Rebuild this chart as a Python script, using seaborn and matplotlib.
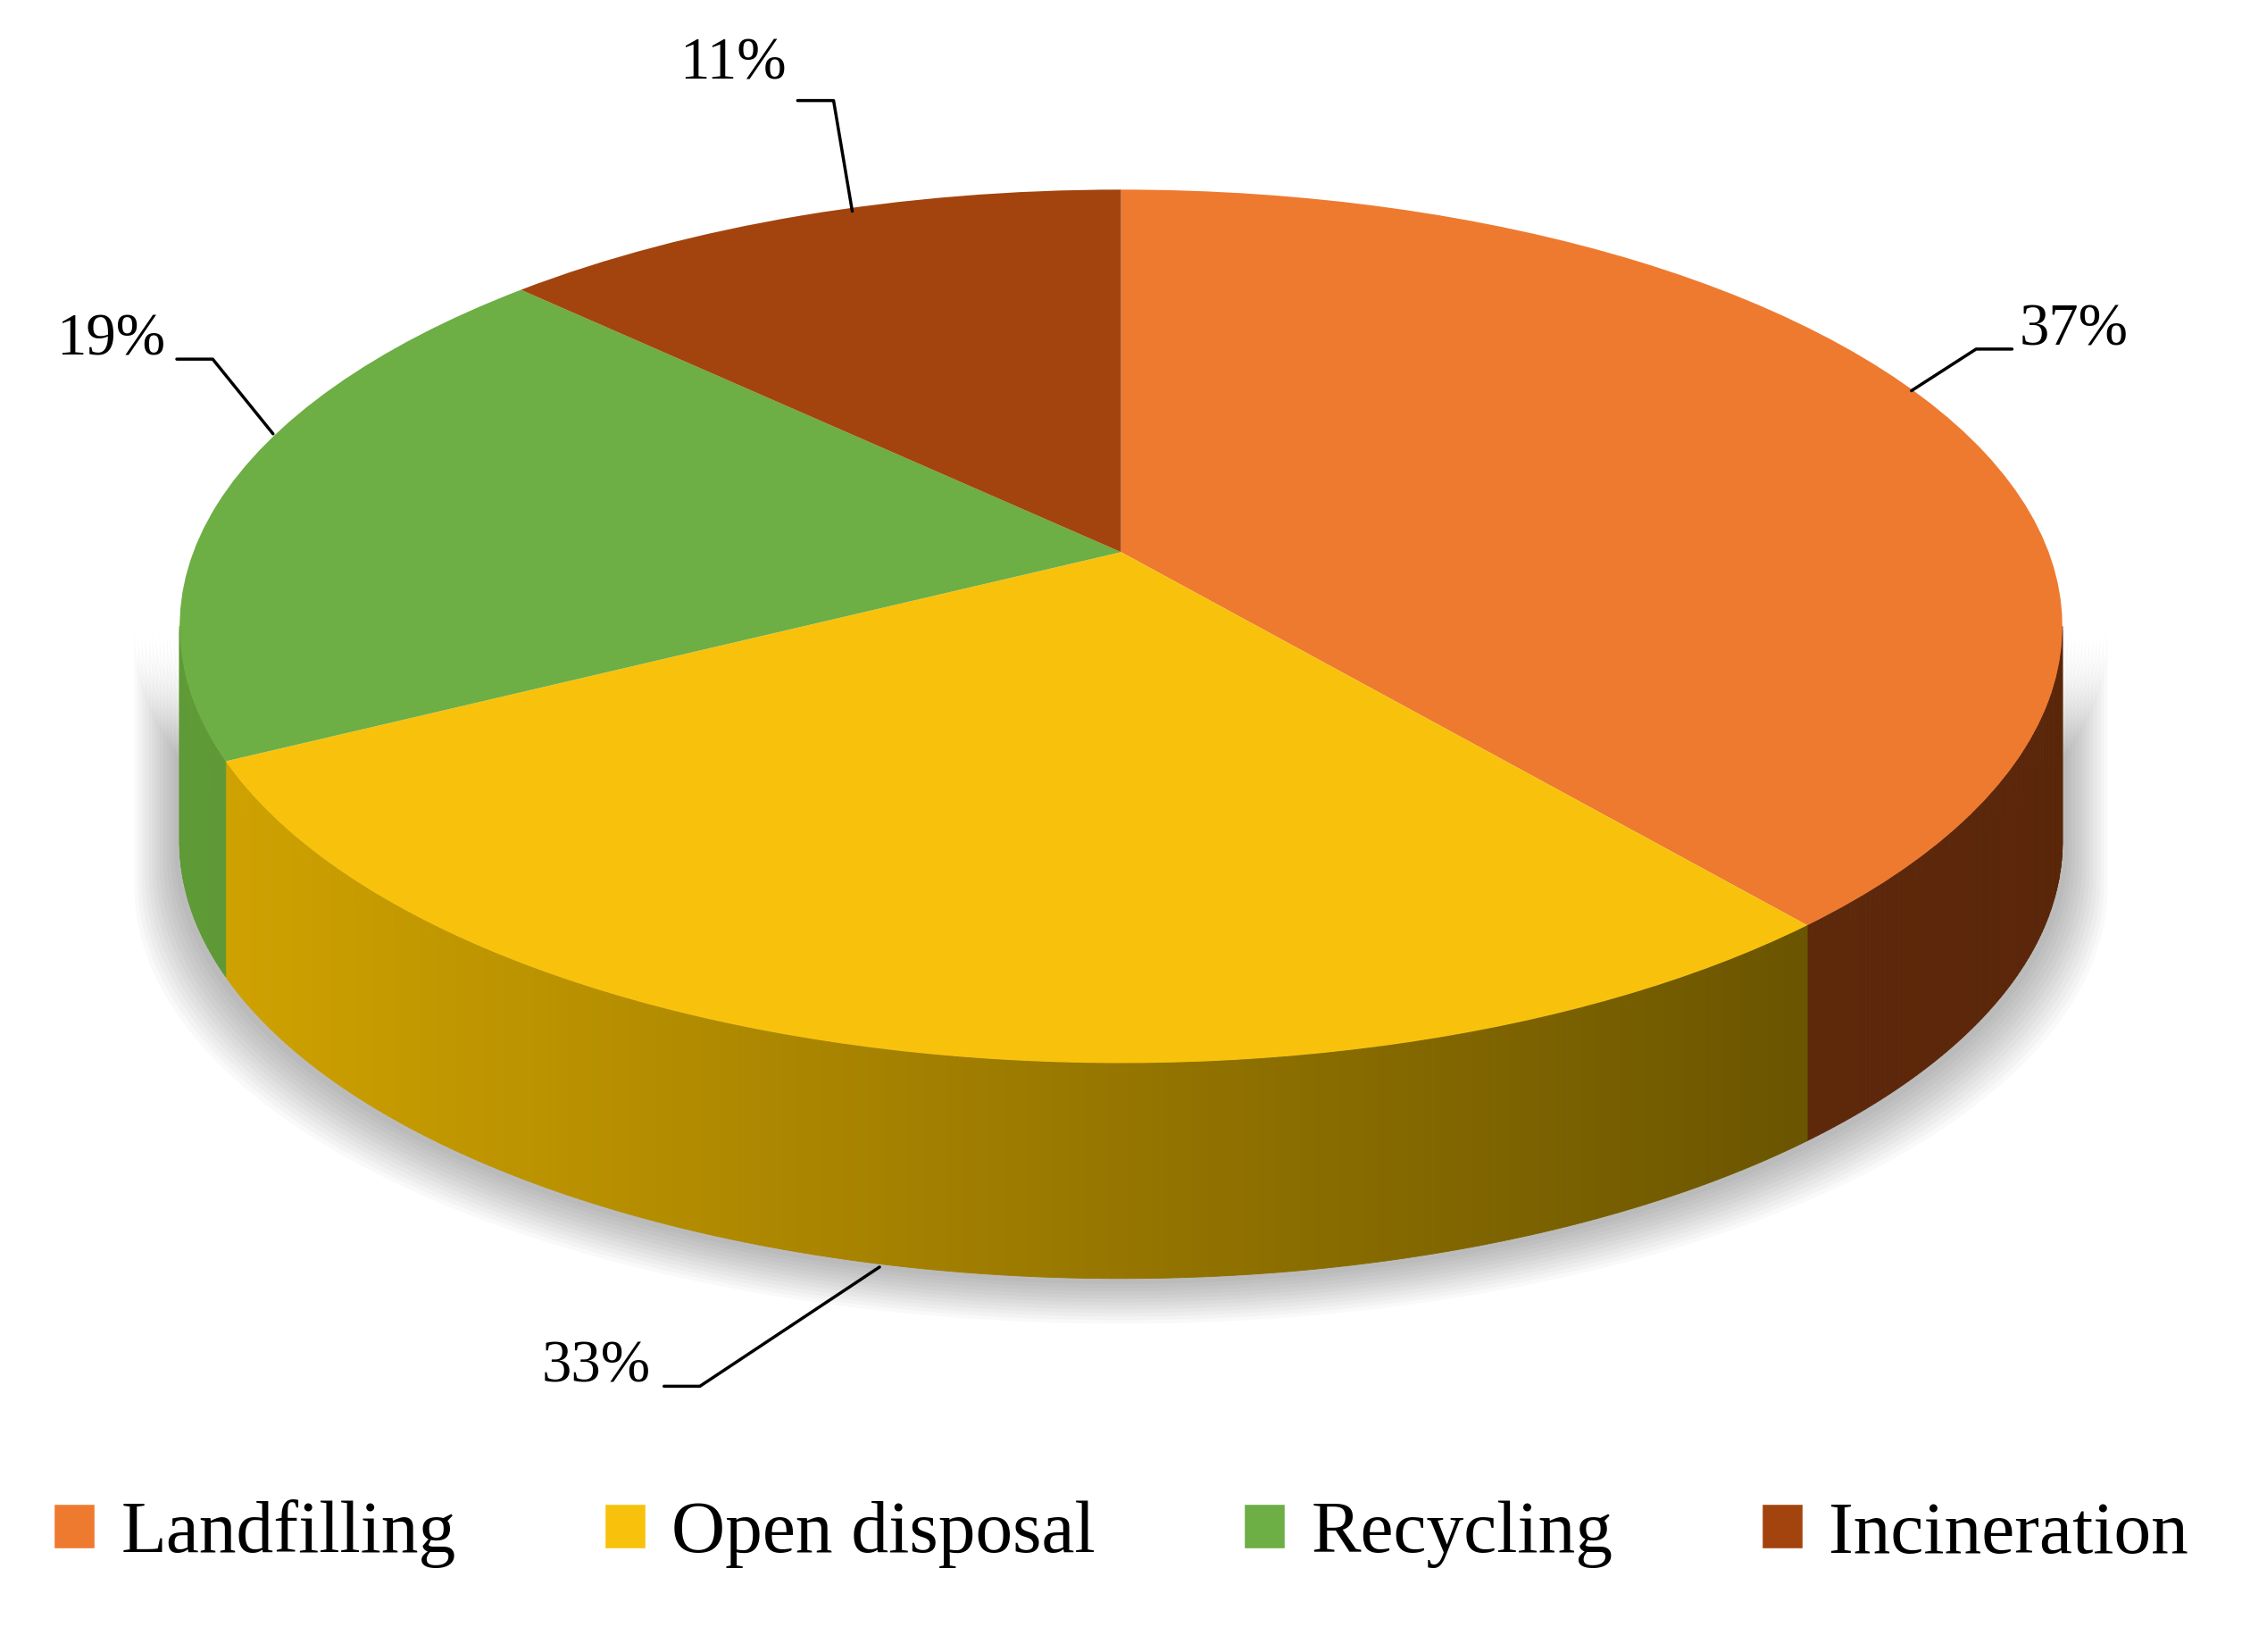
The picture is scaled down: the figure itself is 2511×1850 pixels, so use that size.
import numpy as np
import matplotlib
matplotlib.use('Agg')
import matplotlib.pyplot as plt
import matplotlib.transforms as mtransforms
import matplotlib.colors as mcolors
from matplotlib.patches import PathPatch
from matplotlib.path import Path
import seaborn as sns

sns.set_style('white')
plt.rcParams['font.family'] = ['Liberation Serif', 'DejaVu Serif']

categories = ['Landfilling', 'Open disposal', 'Recycling', 'Incineration']
shares = [37, 33, 19, 11]
top_colors = ['#EE7A30', '#F8C20C', '#6DAE45', '#A3440E']
side_light = ['#7A3410', '#D2A400', '#5E9A35', '#7A3410']
side_dark = ['#5A260A', '#5A4800', '#4A7A2A', '#5A260A']
label_text = ['37%', '33%', '19%', '11%']
label_pos = [(1405, 230, 'left'), (453, 952, 'right'), (115, 237, 'right'), (547, 45, 'right')]
leader_lines = [
    [(1330, 272), (1375, 243), (1400, 243)],
    [(612, 882), (487, 965), (462, 965)],
    [(190, 302), (148, 250), (123, 250)],
    [(593, 147), (580, 70), (555, 70)],
]

cx, cy, rx, ry, depth = 780, 436, 655, 304, 150
apex_lift = 0.17  # apex sits above the ellipse centre (perspective)

fig = plt.figure(figsize=(25.11, 18.5), dpi=100)
ax = fig.add_axes([0, 0, 1, 1])

# soft shadow
for k in range(12):
    t = np.linspace(np.pi, 2 * np.pi, 200)
    grow = 4 + k * 2.5
    xs = cx + (rx + grow) * np.cos(t)
    ys = cy - ry * np.sin(t) + depth + grow
    ax.fill(np.r_[xs, xs[::-1]], np.r_[ys, cy - ry * np.sin(t[::-1])],
            color='#000000', alpha=0.025, zorder=0, lw=0)

squash = mtransforms.Affine2D().scale(rx, -ry).translate(cx, cy) + ax.transData
wedges, _ = ax.pie(shares, colors=top_colors, startangle=90, counterclock=False,
                   radius=1, center=(0, 0), frame=True)
ax.set_xlim(0, 1560)
ax.set_ylim(1150, 0)
ax.set_aspect('auto')
ax.axis('off')
for w in wedges:
    w.set_transform(squash)
    w.set_visible(False)
    path = w.get_path()
    verts = path.vertices.copy()
    at_centre = np.all(np.isclose(verts, 0.0), axis=1)
    verts[at_centre] = (0.0, apex_lift)
    ax.add_patch(PathPatch(Path(verts, path.codes), transform=squash,
                           fc=w.get_facecolor(), lw=0, zorder=3))

# side wall, drawn as thin shaded strips
for i, w in enumerate(wedges):
    a0, a1 = w.theta1 % 360, w.theta2 % 360
    if a1 < a0:
        a1 += 360
    lo, hi = max(a0, 180), min(a1, 360)
    if hi <= lo:
        continue
    steps = np.linspace(lo, hi, int((hi - lo) * 2) + 2)
    c_l = np.array(mcolors.to_rgb(side_light[i]))
    c_d = np.array(mcolors.to_rgb(side_dark[i]))
    for s0, s1 in zip(steps[:-1], steps[1:]):
        tt = np.radians([s0, s1])
        xs = cx + rx * np.cos(tt)
        ys = cy - ry * np.sin(tt)
        f = (np.cos(np.radians((s0 + s1) / 2)) + 1) / 2
        col = c_l * (1 - f) + c_d * f
        ax.fill([xs[0], xs[1], xs[1], xs[0]], [ys[0], ys[1], ys[1] + depth, ys[0] + depth],
                color=col, lw=0.6, ec=col, zorder=2)

for txt, pos, pts in zip(label_text, label_pos, leader_lines):
    ax.text(pos[0], pos[1], txt, fontsize=48, ha=pos[2], va='center', color='black', zorder=5)
    ax.plot([p[0] for p in pts], [p[1] for p in pts], color='black', lw=2.5, zorder=5)

leg = ax.legend(wedges, categories, loc='lower center', bbox_to_anchor=(0.5, 0.01), ncol=4,
                frameon=False, fontsize=60, handlelength=0.55, handleheight=0.55,
                columnspacing=2.0, handletextpad=0.35)
for t in leg.get_texts():
    t.set_color('black')
for h in leg.legend_handles:
    h.set_visible(True)

fig.savefig('out.png', dpi=100)
